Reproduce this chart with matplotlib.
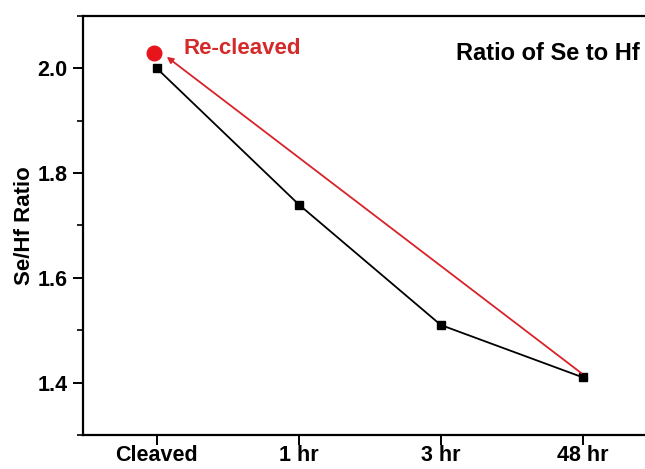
import matplotlib
matplotlib.use("Agg")
import matplotlib.pyplot as plt
from matplotlib.ticker import MultipleLocator

# Se/Hf ratio after exposure
stages = ["Cleaved", "1 hr", "3 hr", "48 hr"]
ratio = [2.00, 1.74, 1.51, 1.41]
recleaved_ratio = 2.03

plt.rcParams['font.family'] = ['Liberation Sans', 'DejaVu Sans']
plt.rcParams['font.weight'] = 'bold'

fig = plt.figure(figsize=(6.45, 4.69), dpi=100)
ax = fig.add_axes([0.1287, 0.0725, 0.885, 0.8934])

x = list(range(len(stages)))
ax.plot(x, ratio, color='black', lw=1.3, marker='s', ms=6, zorder=3)
ax.plot([-0.02], [recleaved_ratio], 'o', color='#e8141b', ms=10.5, zorder=4)

# arrow from the 48 hr point back to the re-cleaved surface
ax.annotate("", xy=(0.07, 2.022), xytext=(2.99, 1.418),
            arrowprops=dict(arrowstyle='-|>', color='#d8222a', lw=1.3,
                            mutation_scale=9, shrinkA=0, shrinkB=0))
ax.text(0.19, 2.038, "Re-cleaved", color='#d42a2a', fontsize=16,
        fontweight='bold', va='center', ha='left')
ax.text(2.11, 2.028, "Ratio of Se to Hf", color='black', fontsize=17,
        fontweight='bold', va='center', ha='left')

ax.set_xlim(-0.52, 3.5)
ax.set_ylim(1.3, 2.1)
ax.set_xticks(x)
ax.set_xticklabels(stages)
ax.yaxis.set_major_locator(MultipleLocator(0.2))
ax.yaxis.set_minor_locator(MultipleLocator(0.1))
ax.set_ylabel("Se/Hf Ratio", fontsize=16, fontweight='bold', labelpad=2)

for side in ['left', 'bottom', 'top', 'right']:
    ax.spines[side].set_linewidth(1.6)
ax.tick_params(axis='both', which='major', direction='out', length=7,
               width=1.4, labelsize=15.5, pad=4)
ax.tick_params(axis='y', which='minor', direction='out', length=4, width=1.2)
ax.tick_params(axis='x', which='major', length=7, pad=0.5, labelsize=15.5)
for lab in ax.get_xticklabels() + ax.get_yticklabels():
    lab.set_fontweight('bold')

fig.savefig("out.png", dpi=100)
